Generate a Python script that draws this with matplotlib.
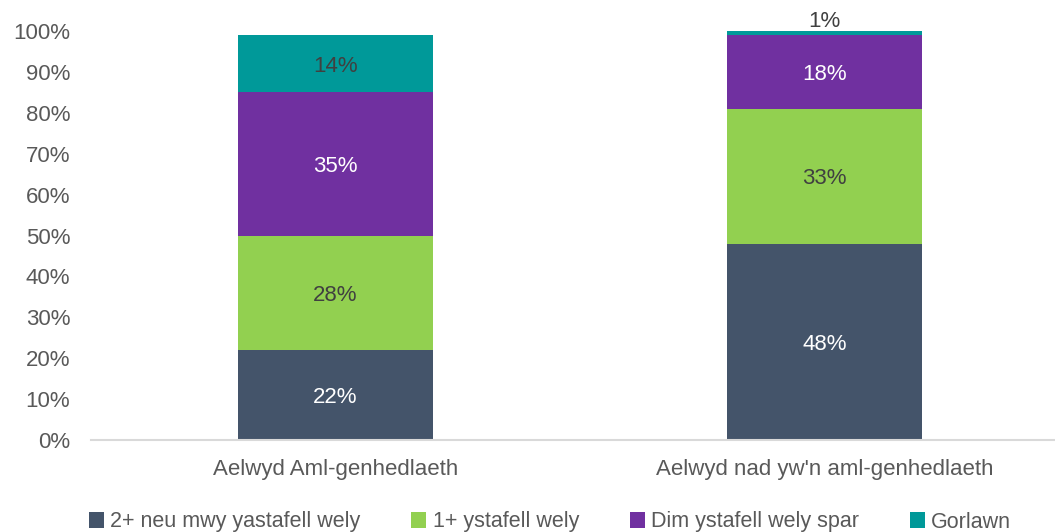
import matplotlib
matplotlib.use("Agg")
import matplotlib.pyplot as plt
from matplotlib.patches import Patch

categories = ["Aelwyd Aml-genhedlaeth", "Aelwyd nad yw'n aml-genhedlaeth"]
series_names = ["2+ neu mwy yastafell wely", "1+ ystafell wely", "Dim ystafell wely spar", "Gorlawn"]
values = {
    "2+ neu mwy yastafell wely": [22, 48],
    "1+ ystafell wely": [28, 33],
    "Dim ystafell wely spar": [35, 18],
    "Gorlawn": [14, 1],
}
colors = ["#44546A", "#92D050", "#7030A0", "#009999"]
label_colors = ["white", "#404040", "white", "#404040"]
yticks = list(range(0, 101, 10))

plt.rcParams['font.family'] = ['Liberation Sans', 'DejaVu Sans']
fig = plt.figure(figsize=(10.55, 5.32), dpi=100)
ax = fig.add_axes([91/1055, 1 - 440/532, (1055-91)/1055, 409/532])

x = list(range(len(categories)))
bottom = [0, 0]
for name, col, lc in zip(series_names, colors, label_colors):
    vals = values[name]
    ax.bar(x, vals, bottom=bottom, width=0.4, color=col, label=name)
    for i, v in enumerate(vals):
        if v >= 5:
            ax.text(x[i], bottom[i] + v / 2, f"{v}%", ha="center", va="center_baseline",
                    color=lc, fontsize=16)
        else:
            ax.text(x[i], bottom[i] + v - 0.3, f"{v}%", ha="center", va="bottom",
                    color="#404040", fontsize=16)
    bottom = [b + v for b, v in zip(bottom, vals)]

ax.set_xlim(-0.5, 1 + (1055 - 824.5) / 489)
ax.set_ylim(0, 100)
ax.set_yticks(yticks)
ax.set_yticklabels([f"{t}%" for t in yticks], fontsize=16, color="#595959")
ax.set_xticks(x)
ax.set_xticklabels(categories, fontsize=16, color="#595959")
ax.tick_params(axis="y", length=0, pad=15)
ax.tick_params(axis="x", length=0, pad=14)
for s in ["top", "right", "left"]:
    ax.spines[s].set_visible(False)
ax.spines["bottom"].set_color("#D9D9D9")
ax.spines["bottom"].set_linewidth(1.5)

handles = [Patch(facecolor=c, label=n) for n, c in zip(series_names, colors)]
leg = fig.legend(handles=handles, loc="center", bbox_to_anchor=(550/1055, 1 - 522/532),
                 ncol=4, frameon=False, fontsize=15.5, handlelength=0.7, handleheight=0.7,
                 handletextpad=0.3, columnspacing=2.35)
for t in leg.get_texts():
    t.set_color("#595959")

fig.savefig("out.png", dpi=100)
